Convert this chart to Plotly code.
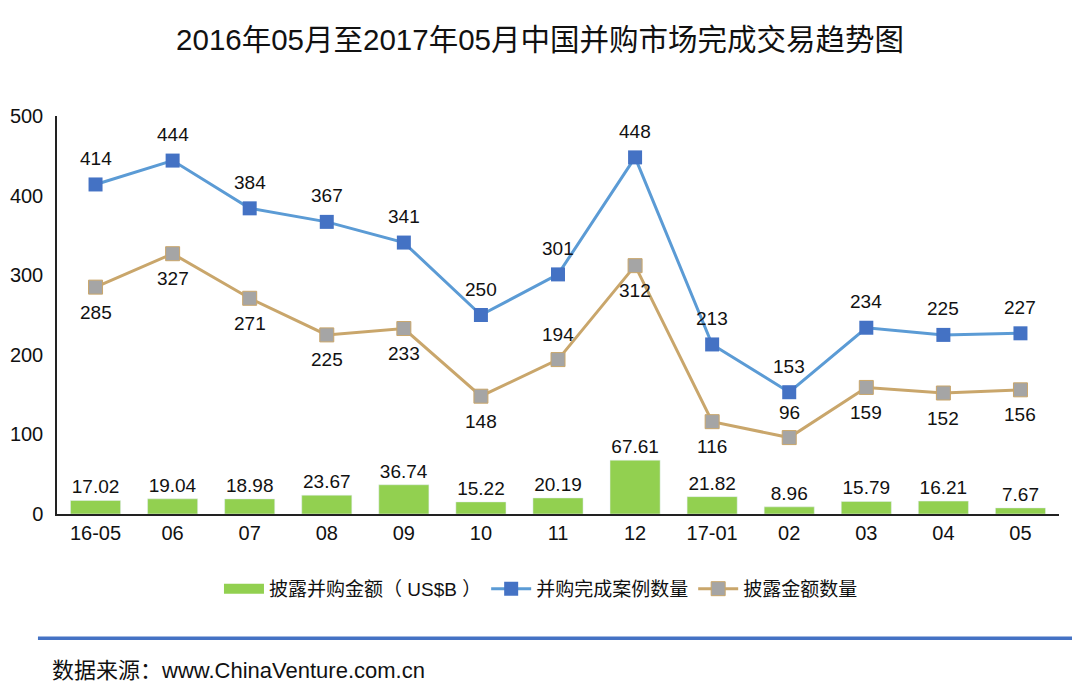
import plotly.graph_objects as go

categories = ["16-05", "06", "07", "08", "09", "10", "11", "12", "17-01", "02", "03", "04", "05"]
amount_usd_b = [17.02, 19.04, 18.98, 23.67, 36.74, 15.22, 20.19, 67.61, 21.82, 8.96, 15.79, 16.21, 7.67]
completed_cases = [414, 444, 384, 367, 341, 250, 301, 448, 213, 153, 234, 225, 227]
disclosed_count = [285, 327, 271, 225, 233, 148, 194, 312, 116, 96, 159, 152, 156]
# +1 = label above the point, -1 = label below
disclosed_side = [-1, -1, -1, -1, -1, -1, 1, -1, -1, 1, -1, -1, -1]

FONT = "Liberation Sans, Arial, Noto Sans CJK SC, sans-serif"
LBL = dict(size=19, color="#111111", family=FONT)
GREEN = "#92D050"

fig = go.Figure()
fig.add_trace(go.Bar(
    x=categories, y=amount_usd_b, name="披露并购金额（ US$B ）", showlegend=False,
    marker=dict(color=GREEN), text=[f"{v:.2f}" for v in amount_usd_b],
    textposition="outside", textfont=LBL, cliponaxis=False,
))
# legend entry for the bars (wide rectangle swatch)
fig.add_trace(go.Scatter(
    x=[None], y=[None], name="披露并购金额（ US$B ）", mode="lines",
    line=dict(color=GREEN, width=11), hoverinfo="skip",
))
fig.add_trace(go.Scatter(
    x=categories, y=completed_cases, name="并购完成案例数量", mode="lines+markers",
    line=dict(color="#5B9BD5", width=3), marker=dict(symbol="square", size=14, color="#4472C4"),
    cliponaxis=False,
))
fig.add_trace(go.Scatter(
    x=categories, y=disclosed_count, name="披露金额数量", mode="lines+markers",
    line=dict(color="#C9A66B", width=3),
    marker=dict(symbol="square", size=14, color="#A5A5A5", line=dict(color="#C9A66B", width=1)),
    cliponaxis=False,
))

annotations = []
for i, v in enumerate(completed_cases):
    annotations.append(dict(x=i, y=v, xref="x", yref="y", text=str(v), showarrow=False,
                            yanchor="middle", yshift=26, font=LBL))
for i, (v, s) in enumerate(zip(disclosed_count, disclosed_side)):
    annotations.append(dict(x=i, y=v, xref="x", yref="y", text=str(v), showarrow=False,
                            yanchor="middle", yshift=25 * s, font=LBL))
annotations.append(dict(text="数据来源：www.ChinaVenture.com.cn", xref="paper", yref="paper",
                        x=-0.007, y=-0.392, xanchor="left", yanchor="middle", showarrow=False,
                        font=dict(size=22, family=FONT, color="#111111")))

fig.update_layout(
    width=1072, height=690, paper_bgcolor="white", plot_bgcolor="white",
    margin=dict(l=49, r=21, t=108, b=184),
    font=dict(family=FONT, color="#111111"),
    title=dict(text="2016年05月至2017年05月中国并购市场完成交易趋势图", x=0.4963, xanchor="center",
               y=0.9536, yanchor="middle", font=dict(size=29.5, color="#111111", family=FONT)),
    bargap=0.35, showlegend=True,
    legend=dict(orientation="h", x=0.483, xanchor="center", y=-0.188, yanchor="middle",
                font=dict(size=19, family=FONT), itemwidth=40, traceorder="normal"),
    xaxis=dict(type="category", range=[-0.5, len(categories) - 0.5], showline=True, linecolor="#222222",
               linewidth=1.5, ticks="", showgrid=False, tickfont=dict(size=20, family=FONT), automargin=False),
    yaxis=dict(range=[0, 500], dtick=100, showline=True, linecolor="#222222", linewidth=1.5,
               showgrid=False, ticks="", tickfont=dict(size=20, family=FONT), ticklabelstandoff=8,
               automargin=False),
    shapes=[dict(type="line", xref="paper", yref="paper", x0=-0.019, x1=1.03, y0=-0.312, y1=-0.312,
                 line=dict(color="#4472C4", width=3.5))],
    annotations=annotations,
)

fig.write_html("out.html")
